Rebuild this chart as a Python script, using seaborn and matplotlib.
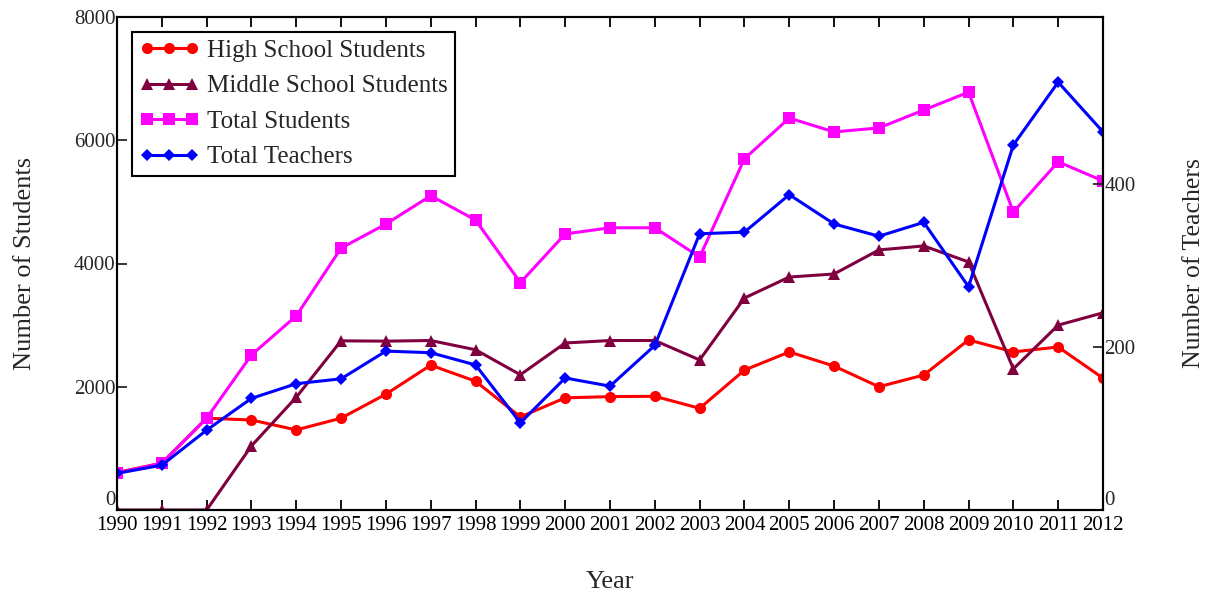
import matplotlib
matplotlib.use("Agg")
import matplotlib.pyplot as plt
import seaborn as sns
import pandas as pd

years = list(range(1990, 2013))
high_school = [610, 760, 1490, 1460, 1300, 1490, 1880, 2350, 2090, 1510, 1820, 1840, 1845,
               1650, 2270, 2565, 2335, 2000, 2190, 2760, 2565, 2645, 2140]
middle_school = [0, 0, 0, 1040, 1830, 2745, 2740, 2750, 2600, 2195, 2710, 2750, 2750,
                 2435, 3440, 3780, 3830, 4220, 4285, 4025, 2290, 3000, 3200]
total_students = [600, 760, 1490, 2516, 3150, 4250, 4640, 5100, 4705, 3690, 4480, 4580, 4580,
                  4105, 5700, 6360, 6135, 6200, 6490, 6780, 4835, 5650, 5340]
total_teachers = [45, 55, 98, 137, 155, 161, 195, 193, 178, 107, 162, 152, 202,
                  339, 341, 387, 351, 336, 353, 274, 448, 525, 464]

df = pd.DataFrame({"Year": years, "High": high_school, "Middle": middle_school,
                   "Total": total_students, "Teachers": total_teachers})

sns.set_style("white")
plt.rcParams["font.family"] = ["Liberation Serif", "DejaVu Serif"]
plt.rcParams["xtick.direction"] = "in"
plt.rcParams["ytick.direction"] = "in"

fig = plt.figure(figsize=(12.07, 5.94), dpi=100)
ax = fig.add_axes([117/1207, 1-510/594, (1103-117)/1207, (510-17)/594])
ax2 = ax.twinx()

lw = 2.2
sns.lineplot(data=df, x="Year", y="High", ax=ax, color="#ff0000", marker="o", markersize=8,
             markeredgewidth=0, linewidth=lw, label="High School Students", legend=False)
sns.lineplot(data=df, x="Year", y="Middle", ax=ax, color="#80003f", marker="^", markersize=9,
             markeredgewidth=0, linewidth=lw, label="Middle School Students", legend=False)
sns.lineplot(data=df, x="Year", y="Total", ax=ax, color="#ff00ff", marker="s", markersize=8,
             markeredgewidth=0, linewidth=lw, label="Total Students", legend=False)
sns.lineplot(data=df, x="Year", y="Teachers", ax=ax2, color="#0000ff", marker="D", markersize=6,
             markeredgewidth=0, linewidth=lw, label="Total Teachers", legend=False)

ax.set_xlim(1990, 2012)
ax.set_ylim(0, 8000)
ax2.set_ylim(0, 605)
ax.set_xticks(years)
ax.set_xticklabels([str(y) for y in years])
ax.set_yticks([0, 2000, 4000, 6000, 8000])
ax2.set_yticks([0, 200, 400])

ax.tick_params(axis="x", which="both", top=True, bottom=True, length=7, width=1.3,
               labelsize=15, pad=4, colors="black")
ax.tick_params(axis="y", left=True, right=False, length=7, width=1.3, labelsize=15, pad=1)
ax2.tick_params(axis="y", right=True, length=7, width=1.3, labelsize=15, pad=1)

# zero labels sit just above the axis bottom
ax.get_yticklabels()[0].set_verticalalignment("bottom")
ax2.get_yticklabels()[0].set_verticalalignment("bottom")

for a in (ax, ax2):
    for s in a.spines.values():
        s.set_color("black")
        s.set_linewidth(1.5)

ax.set_xlabel("Year", fontsize=19, labelpad=26)
ax.set_ylabel("Number of Students", fontsize=19, labelpad=27)
ax2.set_ylabel("Number of Teachers", fontsize=18.5, labelpad=34)

h1, l1 = ax.get_legend_handles_labels()
h2, l2 = ax2.get_legend_handles_labels()
leg = ax.legend(h1 + h2, l1 + l2, loc="upper left", bbox_to_anchor=(0.015, 0.97),
                borderaxespad=0, numpoints=3, fontsize=18, frameon=True, fancybox=False,
                framealpha=1, edgecolor="black", handlelength=2.4, handletextpad=0.3,
                labelspacing=0.52, borderpad=0.3)
leg.get_frame().set_linewidth(1.5)
leg.set_zorder(10)

fig.savefig("out.png", dpi=100)
